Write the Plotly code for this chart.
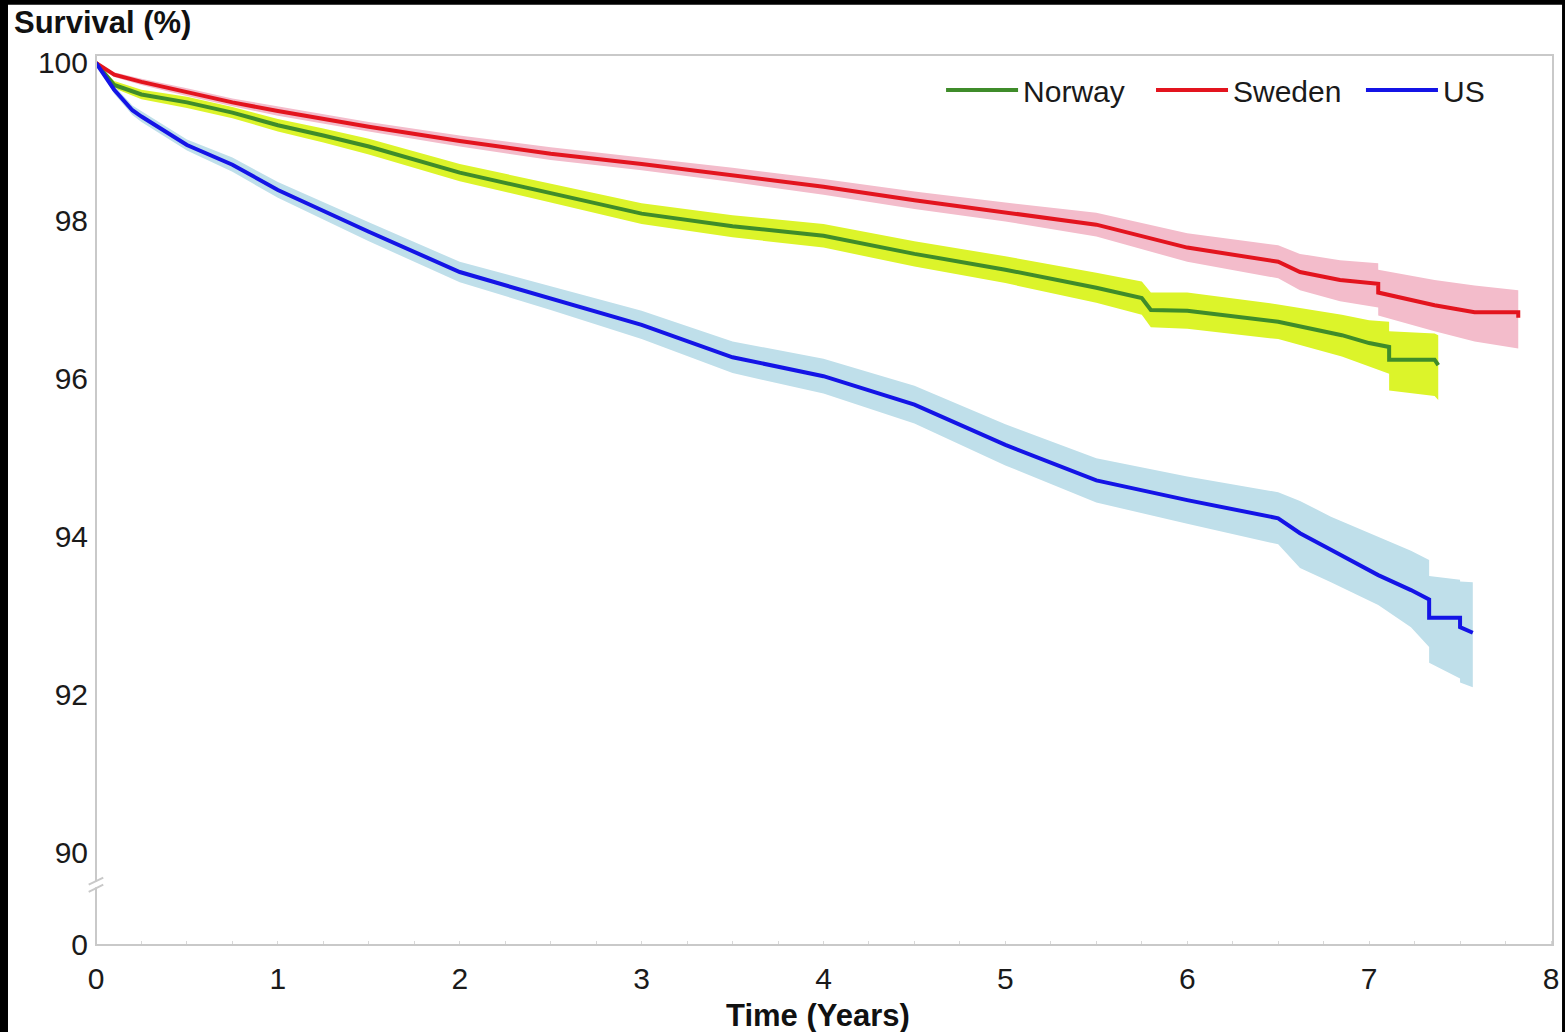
import plotly.graph_objects as go

# Kaplan-Meier survival estimates (%) with 95% confidence limits, by country
norway_t = [0, 0.1, 0.25, 0.5, 0.75, 1, 1.25, 1.5, 2, 2.5, 3, 3.5, 4, 4.5, 5, 5.5, 5.75, 5.8, 6, 6.5, 6.85, 7.0, 7.11, 7.11, 7.36, 7.38]
norway_s = [100, 99.72, 99.6, 99.5, 99.37, 99.21, 99.08, 98.94, 98.61, 98.35, 98.09, 97.93, 97.81, 97.58, 97.38, 97.15, 97.02, 96.87, 96.86, 96.72, 96.55, 96.45, 96.40, 96.24, 96.24, 96.17]
norway_lo = [100, 99.68, 99.54, 99.43, 99.3, 99.13, 98.99, 98.84, 98.5, 98.23, 97.96, 97.79, 97.66, 97.42, 97.21, 96.96, 96.81, 96.65, 96.63, 96.5, 96.28, 96.15, 96.06, 95.85, 95.78, 95.73]
norway_hi = [100, 99.77, 99.66, 99.57, 99.44, 99.29, 99.17, 99.04, 98.72, 98.47, 98.22, 98.07, 97.96, 97.74, 97.55, 97.34, 97.23, 97.09, 97.09, 96.94, 96.81, 96.74, 96.72, 96.6, 96.57, 96.55]

sweden_t = [0, 0.1, 0.25, 0.5, 0.75, 1, 1.5, 2, 2.5, 3, 3.5, 4, 4.5, 5, 5.5, 6, 6.5, 6.62, 6.84, 7.05, 7.05, 7.36, 7.58, 7.82, 7.82]
sweden_s = [100, 99.85, 99.76, 99.63, 99.5, 99.39, 99.19, 99.01, 98.85, 98.72, 98.58, 98.43, 98.26, 98.11, 97.95, 97.66, 97.48, 97.35, 97.25, 97.2, 97.09, 96.93, 96.84, 96.84, 96.77]
sweden_lo = [100, 99.82, 99.72, 99.58, 99.45, 99.33, 99.13, 98.94, 98.77, 98.64, 98.49, 98.33, 98.15, 97.99, 97.8, 97.48, 97.27, 97.12, 96.98, 96.9, 96.8, 96.6, 96.47, 96.38, 96.36]
sweden_hi = [100, 99.88, 99.8, 99.68, 99.55, 99.45, 99.25, 99.08, 98.93, 98.8, 98.67, 98.53, 98.37, 98.23, 98.1, 97.84, 97.69, 97.58, 97.5, 97.46, 97.38, 97.25, 97.18, 97.12, 97.1]

us_t = [0, 0.1, 0.2, 0.25, 0.5, 0.75, 1, 1.5, 2, 2.5, 3, 3.5, 4, 4.5, 5, 5.5, 6, 6.5, 6.62, 6.79, 7.05, 7.23, 7.33, 7.33, 7.5, 7.5, 7.57]
us_s = [100, 99.66, 99.4, 99.32, 98.96, 98.71, 98.39, 97.86, 97.35, 97.02, 96.68, 96.27, 96.03, 95.67, 95.16, 94.71, 94.46, 94.23, 94.04, 93.83, 93.51, 93.32, 93.2, 92.97, 92.97, 92.85, 92.78]
us_lo = [100, 99.61, 99.34, 99.25, 98.89, 98.62, 98.29, 97.74, 97.22, 96.87, 96.5, 96.07, 95.81, 95.43, 94.9, 94.43, 94.16, 93.9, 93.6, 93.42, 93.13, 92.85, 92.6, 92.4, 92.2, 92.15, 92.09]
us_hi = [100, 99.71, 99.46, 99.39, 99.03, 98.8, 98.49, 97.98, 97.48, 97.17, 96.86, 96.47, 96.25, 95.91, 95.42, 94.99, 94.76, 94.56, 94.45, 94.25, 93.99, 93.82, 93.7, 93.5, 93.45, 93.43, 93.42]

countries = ["Norway", "Sweden", "US"]
line_colors = ["#3f8c2a", "#e3141e", "#1414e6"]
band_colors = ["#dcf42a", "#f3bccb", "#bfdfea"]
legend_ids = ["legend", "legend2", "legend3"]
legend_x = [0.5800, 0.7241, 0.8682]
series = [
    (norway_t, norway_s, norway_lo, norway_hi),
    (sweden_t, sweden_s, sweden_lo, sweden_hi),
    (us_t, us_s, us_lo, us_hi),
]

x_ticks = [0, 1, 2, 3, 4, 5, 6, 7, 8]
y_ticks = [90, 92, 94, 96, 98, 100]

FONT = "Liberation Sans, Arial, sans-serif"
AXIS_GREY = "#c9c9c9"

fig = go.Figure()

# confidence bands
for name, band, (t, s, lo, hi) in zip(countries, band_colors, series):
    fig.add_trace(go.Scatter(
        x=list(t) + list(t)[::-1], y=list(hi) + list(lo)[::-1],
        fill="toself", fillcolor=band, line=dict(width=0, color=band),
        mode="lines", hoverinfo="skip", showlegend=False,
        xaxis="x", yaxis="y",
    ))

# survival curves, each with its own legend entry box
for name, col, lg, (t, s, lo, hi) in zip(countries, line_colors, legend_ids, series):
    fig.add_trace(go.Scatter(
        x=t, y=s, mode="lines", name=name, legend=lg,
        line=dict(color=col, width=4),
        xaxis="x", yaxis="y",
    ))

# empty trace for the lower (0) segment of the broken axis
fig.add_trace(go.Scatter(x=[0], y=[0], mode="markers", marker=dict(opacity=0),
                         showlegend=False, hoverinfo="skip", xaxis="x", yaxis="y2"))

BREAK = 0.0618  # domain fraction of the lower segment

legend_style = dict(
    orientation="h", y=0.99, xanchor="left", yanchor="top",
    bgcolor="rgba(0,0,0,0)", font=dict(size=30, color="#1a1a1a"),
    itemwidth=72,
)

fig.update_layout(
    width=1565, height=1032,
    margin=dict(l=96, r=12, t=55, b=87),
    paper_bgcolor="white", plot_bgcolor="white",
    font=dict(family=FONT, size=30, color="#1a1a1a"),
    xaxis=dict(
        range=[0, 8.011], tickvals=x_ticks, anchor="y2", automargin=False,
        showgrid=False, zeroline=False, showline=False,
        ticks="", ticklabelstandoff=13,
        minor=dict(ticks="inside", ticklen=4, tickcolor="#d8d8d8", dtick=0.25),
    ),
    yaxis=dict(
        domain=[BREAK, 1], range=[89.52, 100.1], tickvals=y_ticks, automargin=False,
        showgrid=False, zeroline=False, showline=False, ticks="",
        ticklabelstandoff=7,
    ),
    yaxis2=dict(
        domain=[0, BREAK], range=[0, 1], tickvals=[0], anchor="x", automargin=False,
        showgrid=False, zeroline=False, showline=False, ticks="",
        ticklabelstandoff=7,
    ),
    legend=dict(x=legend_x[0], **legend_style),
    legend2=dict(x=legend_x[1], **legend_style),
    legend3=dict(x=legend_x[2], **legend_style),
    showlegend=True,
)

shapes = [
    # plot frame
    dict(type="rect", xref="paper", yref="paper", x0=0, y0=0, x1=1, y1=1,
         line=dict(color=AXIS_GREY, width=2), layer="above"),
    # axis break marker
    dict(type="rect", xref="paper", yref="paper", x0=-0.004, x1=0.004,
         y0=BREAK + 0.003, y1=BREAK + 0.009, fillcolor="white",
         line=dict(width=0), layer="above"),
    dict(type="line", xref="paper", yref="paper", x0=-0.005, x1=0.005,
         y0=BREAK - 0.002, y1=BREAK + 0.006, line=dict(color=AXIS_GREY, width=2), layer="above"),
    dict(type="line", xref="paper", yref="paper", x0=-0.005, x1=0.005,
         y0=BREAK + 0.006, y1=BREAK + 0.014, line=dict(color=AXIS_GREY, width=2), layer="above"),
    # dark border around the figure (left, top, right)
    dict(type="rect", xref="paper", yref="paper", x0=-0.07, x1=-0.0604, y0=-0.2, y1=1.1,
         fillcolor="black", line=dict(width=0)),
    dict(type="rect", xref="paper", yref="paper", x0=-0.07, x1=1.02, y0=1.0565, y1=1.1,
         fillcolor="black", line=dict(width=0)),
    dict(type="rect", xref="paper", yref="paper", x0=1.0062, x1=1.02, y0=-0.2, y1=1.1,
         fillcolor="black", line=dict(width=0)),
]
fig.update_layout(shapes=shapes)

fig.add_annotation(text="<b>Survival (%)</b>", xref="paper", yref="paper",
                   x=-0.0577, y=1.037, xanchor="left", yanchor="middle",
                   showarrow=False, font=dict(size=31, color="#111"))
fig.add_annotation(text="<b>Time (Years)</b>", xref="paper", yref="paper",
                   x=0.4955, y=-0.0787, xanchor="center", yanchor="middle",
                   showarrow=False, font=dict(size=31, color="#111"))

fig.write_html("out.html")
